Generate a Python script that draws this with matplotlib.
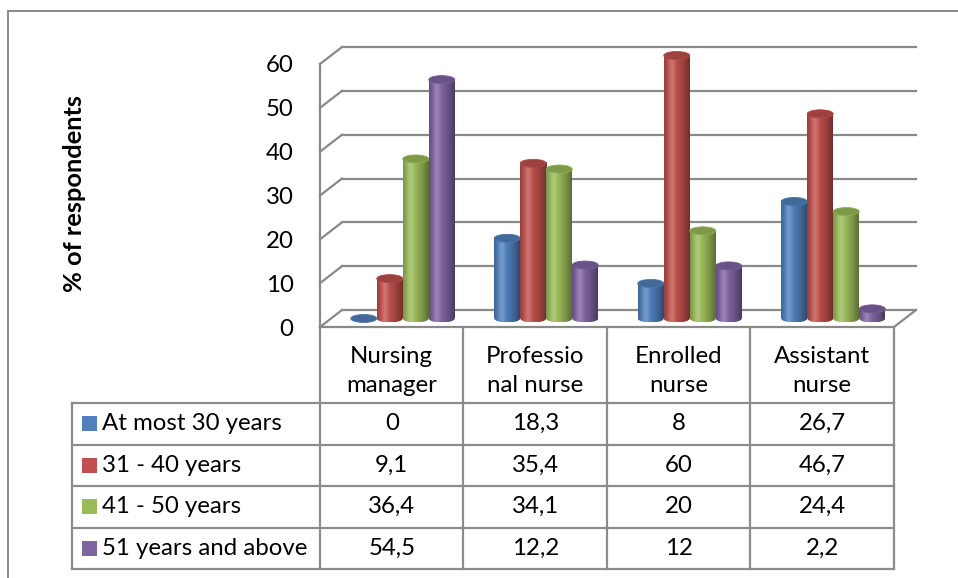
import numpy as np
import matplotlib.pyplot as plt
from matplotlib.patches import Ellipse, Rectangle
from matplotlib.colors import to_rgb

plt.rcParams['font.family'] = ['Lato', 'DejaVu Sans']

# ---------------- data ----------------
categories = ['Nursing\nmanager', 'Professio\nnal nurse', 'Enrolled\nnurse', 'Assistant\nnurse']
series_names = ['At most 30 years', '31 - 40 years', '41 - 50 years', '51 years and above']
at_most_30 = [0, 18.3, 8, 26.7]
age_31_40 = [9.1, 35.4, 60, 46.7]
age_41_50 = [36.4, 34.1, 20, 24.4]
age_51_up = [54.5, 12.2, 12, 2.2]
series = [at_most_30, age_31_40, age_41_50, age_51_up]
colors = ['#4F81BD', '#C0504D', '#9BBB59', '#8064A2']
yticks = [0, 10, 20, 30, 40, 50, 60]

FS = 17.3
grid_c = '#898989'

# ---------------- geometry (pixels) ----------------
W, H = 958, 578
X0, CAT_W = 320, 143.5          # front-left corner of floor, width of one category
Y0, PX_PER_UNIT = 327, 263 / 60  # floor front line, pixels per percent
DEPTH_X, DEPTH_Y = 22, 17        # back wall offset
DX = DEPTH_X / CAT_W
DY = DEPTH_Y / PX_PER_UNIT
BAR_W = 26 / CAT_W
EH = 8 / PX_PER_UNIT

fig = plt.figure(figsize=(W / 100, H / 100), dpi=100)

# background axes in pixel coords for border and data table
bg = fig.add_axes([0, 0, 1, 1], zorder=0)
bg.set_xlim(0, W)
bg.set_ylim(H, 0)
bg.axis('off')

ax_w = len(categories) * CAT_W + DEPTH_X
ax_h = 60 * PX_PER_UNIT + DEPTH_Y
ax = fig.add_axes([X0 / W, (H - Y0) / H, ax_w / W, ax_h / H], zorder=1)
ax.patch.set_alpha(0)
n = len(categories)


def shade(color, npts=80):
    t = np.linspace(0, 1, npts)
    base = np.array(to_rgb(color))
    dark = np.where(t < 0.33, 0.22 * ((0.33 - t) / 0.33) ** 2, 0.42 * ((t - 0.33) / 0.67) ** 1.6)
    light = 0.2 * np.exp(-((t - 0.3) / 0.13) ** 2)
    rgb = base[None, :] * (1 - dark[:, None])
    rgb = rgb + (1 - rgb) * light[:, None]
    return rgb[None, :, :]


# walls and gridlines
for v in yticks:
    ax.plot([DX, n + DX], [v + DY, v + DY], color=grid_c, lw=1.6, zorder=1, clip_on=False)
    ax.plot([0, DX], [v, v + DY], color=grid_c, lw=1.6, zorder=1, clip_on=False)
ax.plot([0, 0], [0, 60], color=grid_c, lw=1.6, zorder=1, clip_on=False)
ax.plot([0, n], [0, 0], color=grid_c, lw=1.6, zorder=1, clip_on=False)
ax.plot([n, n + DX], [0, DY], color=grid_c, lw=1.6, zorder=1, clip_on=False)

# cylinders
for j, (vals, col) in enumerate(zip(series, colors)):
    xs = np.arange(n) + 0.5 + DX / 2 + (j - 1.5) * BAR_W
    bars = ax.bar(xs, vals, BAR_W, bottom=DY / 2, color='none', zorder=3)
    grad = shade(col)
    top_c = np.array(to_rgb(col)) * 0.82
    for b in bars:
        x0, y0, bw, bh = b.get_x(), b.get_y(), b.get_width(), b.get_height()
        z = 3 + j * 0.1
        bot = Ellipse((x0 + bw / 2, y0), bw, EH, facecolor='none', edgecolor='none')
        ax.add_patch(bot)
        if bh > 0:
            im = ax.imshow(grad, extent=[x0, x0 + bw, y0, y0 + bh],
                           aspect='auto', zorder=z, interpolation='bilinear')
            im2 = ax.imshow(grad, extent=[x0, x0 + bw, y0 - EH / 2, y0 + EH / 2],
                            aspect='auto', zorder=z, interpolation='bilinear')
            im2.set_clip_path(bot)
        ax.add_patch(Ellipse((x0 + bw / 2, y0 + bh), bw, EH, facecolor=top_c,
                             edgecolor=np.clip(top_c * 1.12, 0, 1), lw=0.6, zorder=z + 0.01))

ax.set_xlim(0, n + DX)
ax.set_ylim(0, 60 + DY)
ax.set_xticks([])
ax.set_yticks(yticks)
ax.set_yticklabels([str(v) for v in yticks], fontsize=FS)
ax.tick_params(axis='y', length=0, pad=19)
for s in ax.spines.values():
    s.set_visible(False)

# y label
bg.text(75, 193, '% of respondents', rotation=90, ha='center', va='center',
        fontsize=FS + 1, fontweight='bold')

# outer border (cropped on right and bottom)
bg.plot([8, 8], [11, H + 5], color=grid_c, lw=1.4)
bg.plot([8, W + 5], [11, 11], color=grid_c, lw=1.4)

# data table
col_x = [X0 + i * CAT_W for i in range(n + 1)]
row_y = [403, 444.5, 486, 527.5, 569]
tbl_c = '#8c8c8c'
for cx in col_x:
    bg.plot([cx, cx], [Y0, row_y[-1]], color=tbl_c, lw=1.6)
bg.plot([72, 72], [row_y[0], row_y[-1]], color=tbl_c, lw=1.6)
for ry in row_y:
    bg.plot([72, col_x[-1]], [ry, ry], color=tbl_c, lw=1.6)

for i, cat in enumerate(categories):
    bg.text((col_x[i] + col_x[i + 1]) / 2, 371, cat, ha='center', va='center',
            fontsize=FS, linespacing=1.5)

for r, (name, vals, col) in enumerate(zip(series_names, series, colors)):
    cy = (row_y[r] + row_y[r + 1]) / 2
    bg.add_patch(Rectangle((82, cy - 7.5), 15, 15, facecolor=col, edgecolor='none'))
    bg.text(102, cy, name, ha='left', va='center', fontsize=FS)
    for i, v in enumerate(vals):
        bg.text((col_x[i] + col_x[i + 1]) / 2, cy, f'{v:g}'.replace('.', ','),
                ha='center', va='center', fontsize=FS)

fig.savefig('out.png', dpi=100)
